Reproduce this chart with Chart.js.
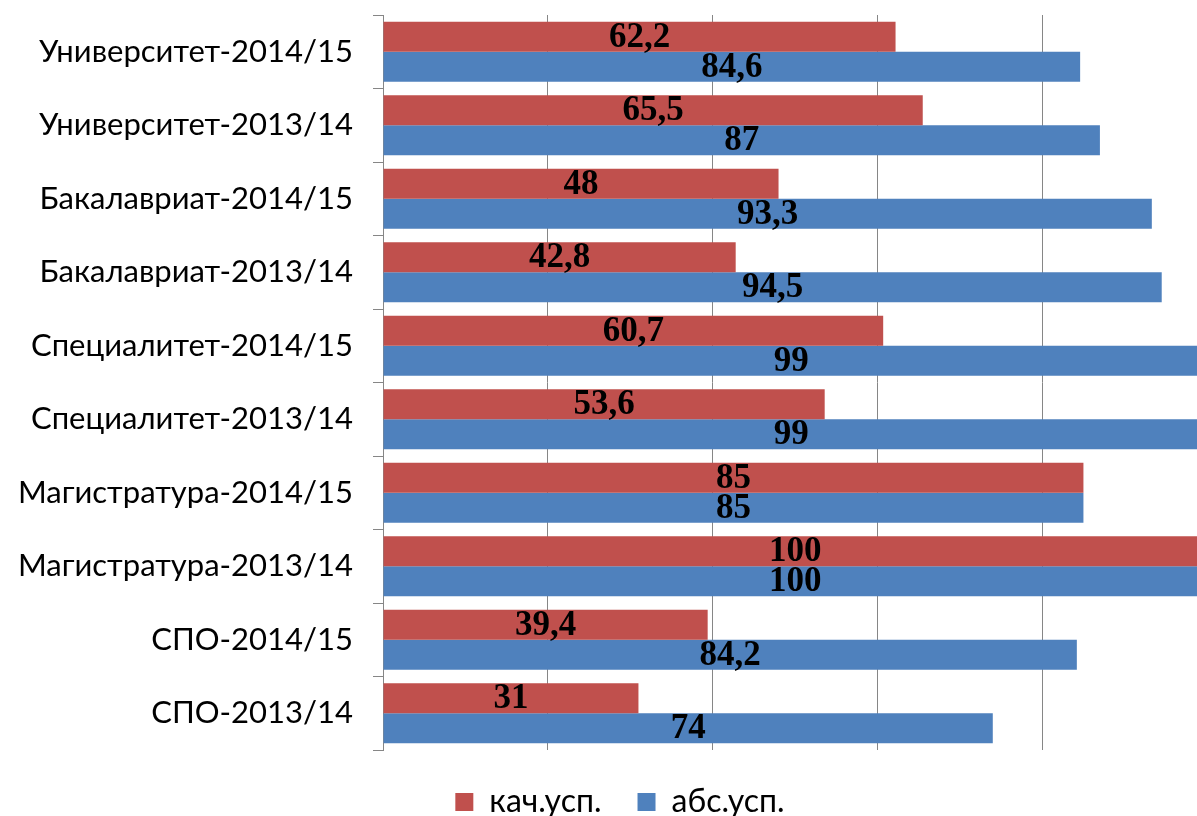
<!DOCTYPE html>
<html>
<head>
<meta charset="utf-8">
<script src="https://cdn.jsdelivr.net/npm/chart.js@4.4.0/dist/chart.umd.min.js"></script>
<style>
  html, body { margin: 0; padding: 0; background: #fff; overflow: hidden; }
  #wrap { width: 1240px; height: 816px; }
</style>
</head>
<body>
<div id="wrap"><canvas id="barChart"></canvas></div>
<script>
var categories = [
    'Университет-2014/15', 'Университет-2013/14',
    'Бакалавриат-2014/15', 'Бакалавриат-2013/14',
    'Специалитет-2014/15', 'Специалитет-2013/14',
    'Магистратура-2014/15', 'Магистратура-2013/14',
    'СПО-2014/15', 'СПО-2013/14'
];
var kachValues = [62.2, 65.5, 48, 42.8, 60.7, 53.6, 85, 100, 39.4, 31];
var absValues = [84.6, 87, 93.3, 94.5, 99, 99, 85, 100, 84.2, 74];
var seriesNames = ['кач.усп.', 'абс.усп.'];

// labels in the middle of each bar, comma as decimal mark
var barLabels = {
    id: 'barLabels',
    afterDatasetsDraw: function(chart) {
        var ctx = chart.ctx;
        ctx.save();
        ctx.font = 'bold 35px "Liberation Serif"';
        ctx.fillStyle = '#000';
        ctx.textAlign = 'center';
        ctx.textBaseline = 'middle';
        chart.data.datasets.forEach(function(ds, i) {
            chart.getDatasetMeta(i).data.forEach(function(bar, j) {
                var x = (bar.x + bar.base) / 2;
                ctx.fillText(String(ds.data[j]).replace('.', ','), x, bar.y + 1);
            });
        });
        ctx.restore();
    }
};

var gridColor = '#868686';

var barChartCanvas = document.getElementById('barChart').getContext('2d');
var barChart = new Chart(barChartCanvas, {
    type: 'bar',
    data: {
        labels: categories,
        datasets: [{
            label: seriesNames[0],
            data: kachValues,
            backgroundColor: '#C0504D',
            categoryPercentage: 0.816,
            barPercentage: 1.0
        }, {
            label: seriesNames[1],
            data: absValues,
            backgroundColor: '#4F81BD',
            categoryPercentage: 0.816,
            barPercentage: 1.0
        }]
    },
    options: {
        indexAxis: 'y',
        responsive: true,
        maintainAspectRatio: false,
        animation: false,
        layout: { padding: { top: 15, left: 0, right: 0, bottom: 0 } },
        scales: {
            x: {
                min: 0,
                max: 104,
                ticks: { display: false, stepSize: 20 },
                grid: {
                    drawTicks: false,
                    color: function(c) {
                        return c.tick && c.tick.value % 20 === 0 ? gridColor : 'rgba(0,0,0,0)';
                    }
                },
                border: { display: false }
            },
            y: {
                grid: {
                    drawOnChartArea: false,
                    drawTicks: true,
                    tickLength: 10,
                    color: gridColor
                },
                border: { display: true, color: gridColor },
                ticks: {
                    font: { family: 'Lato', size: 31 },
                    color: '#000',
                    padding: 20
                },
                afterFit: function(scale) {
                    scale.width = 383;
                    scale.paddingTop = 0;
                    scale.paddingBottom = 0;
                }
            }
        },
        plugins: {
            legend: {
                position: 'bottom',
                maxHeight: 66,
                labels: {
                    font: { family: 'Lato', size: 32 },
                    color: '#000',
                    boxWidth: 18,
                    boxHeight: 18,
                    padding: 36
                }
            },
            tooltip: { enabled: false }
        }
    },
    plugins: [barLabels]
});
</script>
</body>
</html>
